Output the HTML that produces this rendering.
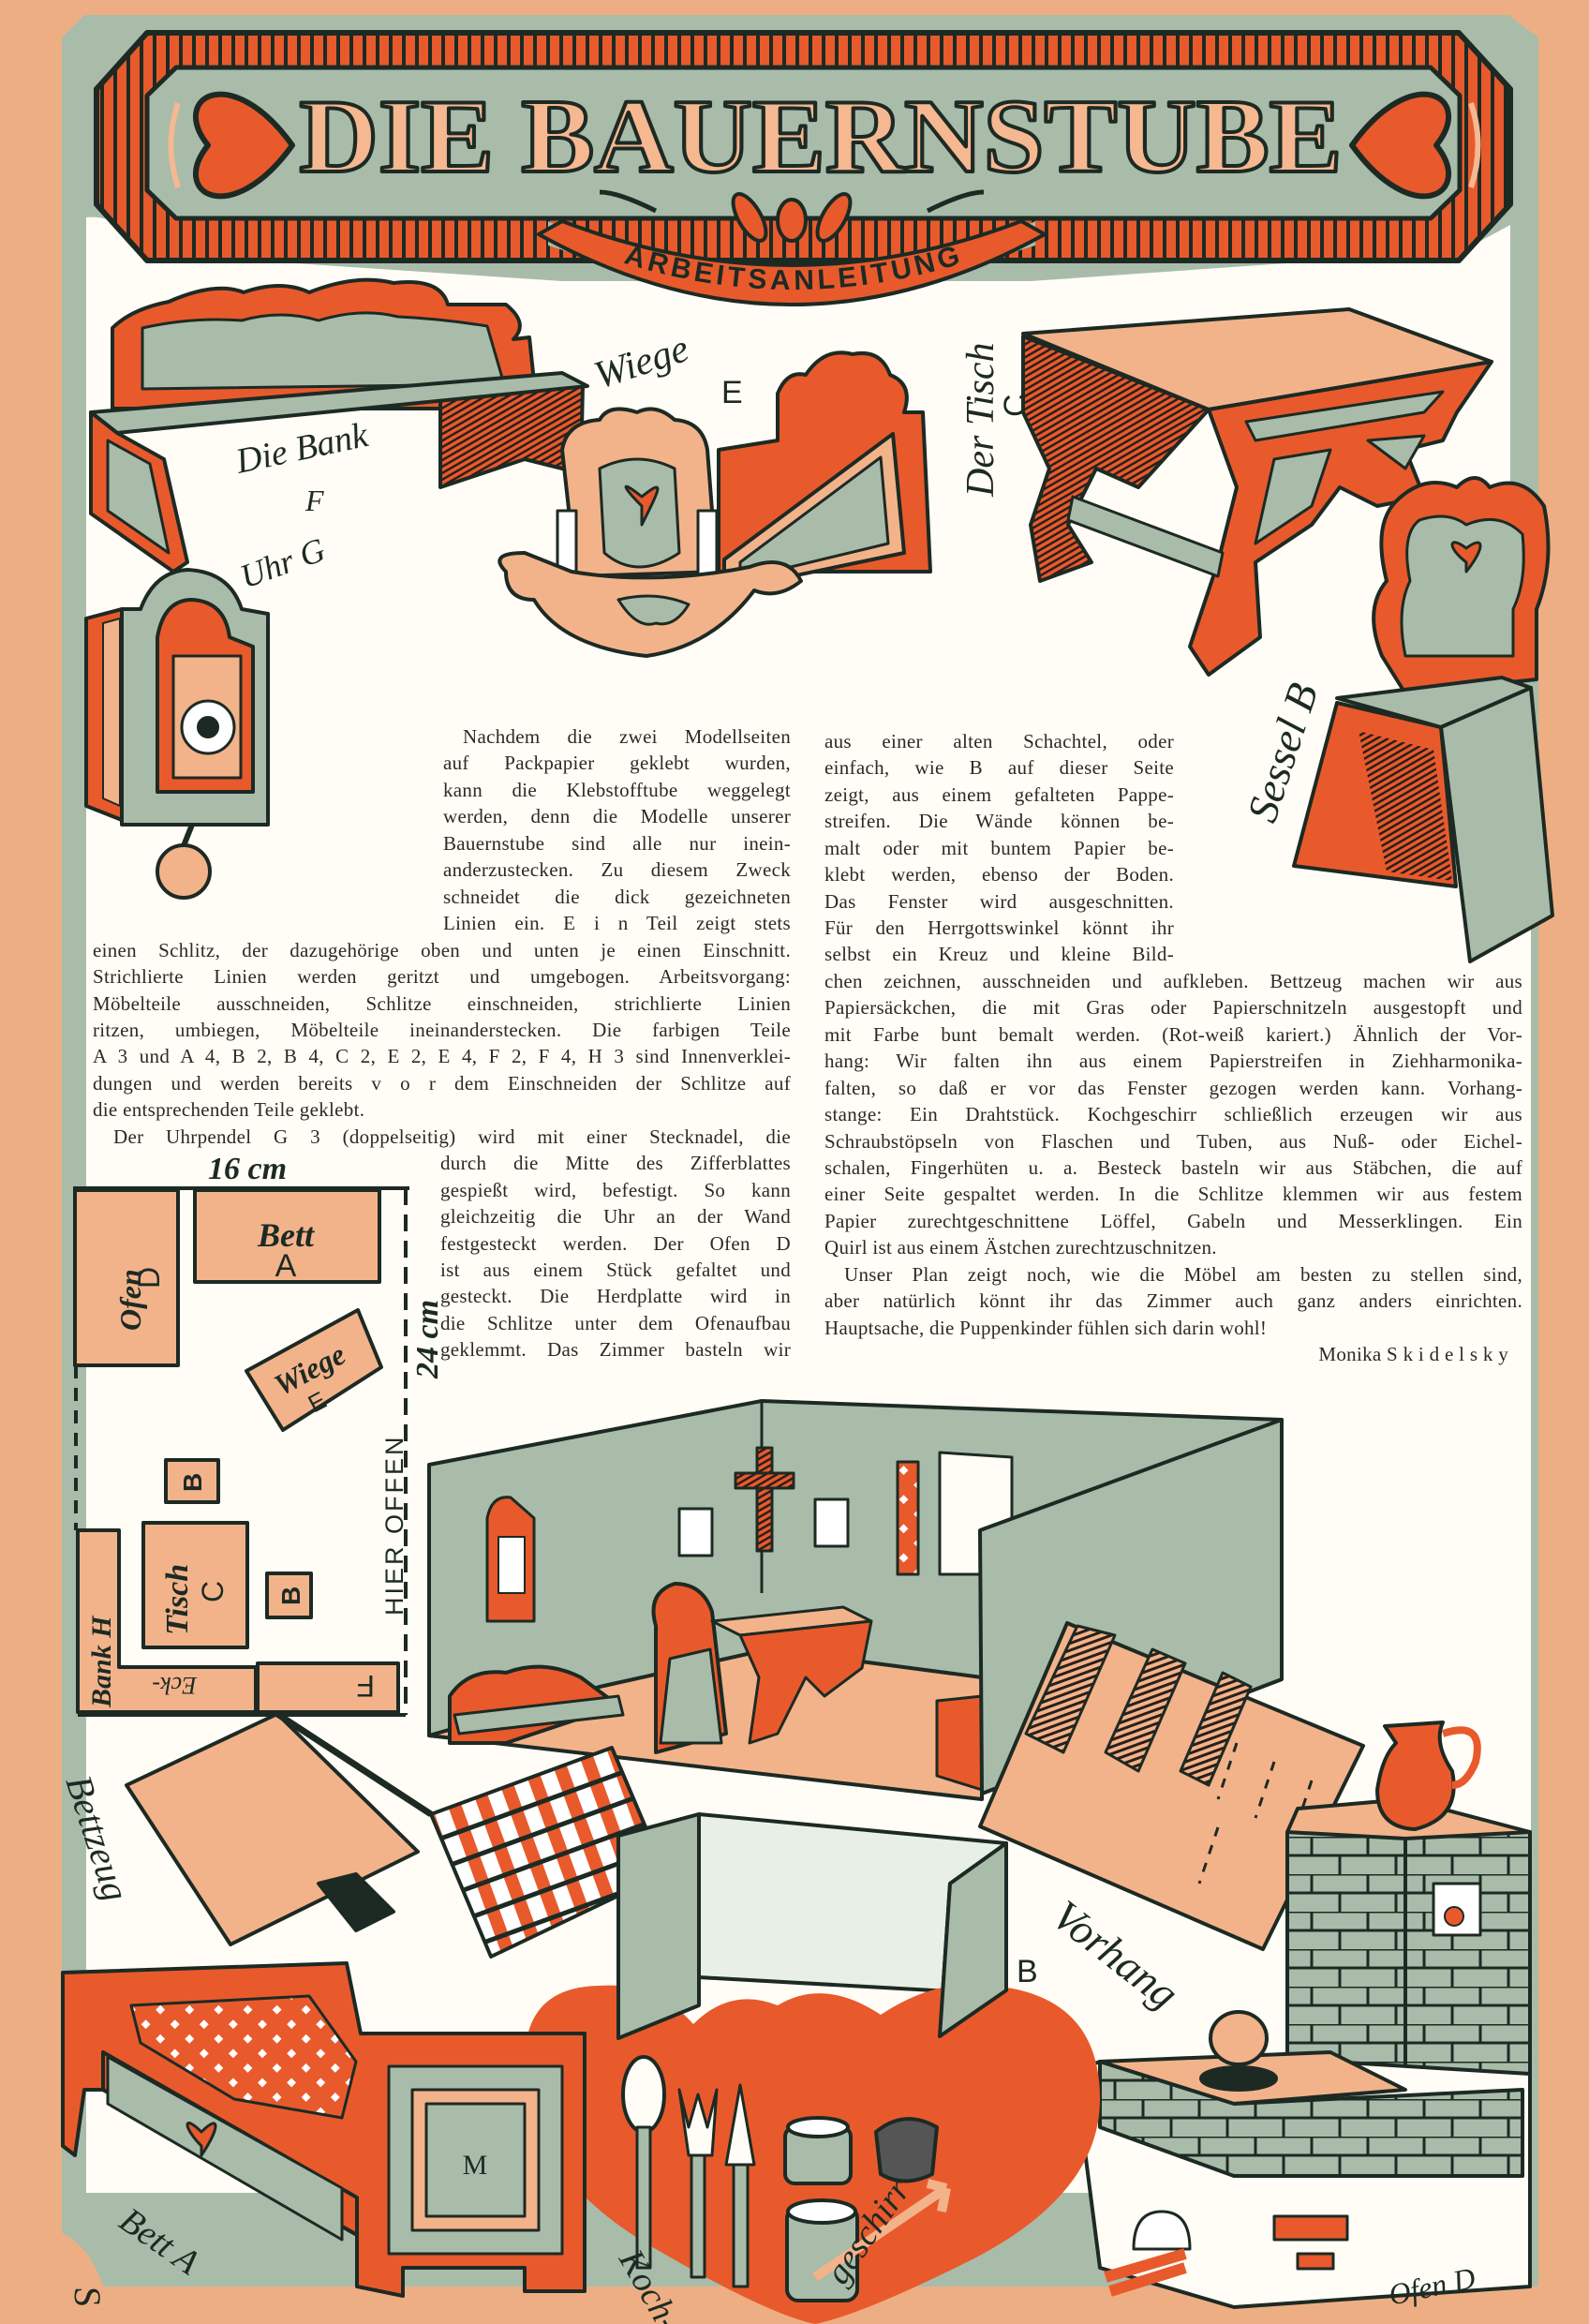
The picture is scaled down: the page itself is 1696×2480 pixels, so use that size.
<!DOCTYPE html>
<html><head><meta charset="utf-8"><style>
html,body{margin:0;padding:0}
body{width:1696px;height:2480px;position:relative;overflow:hidden;background:#eeae84}
svg{position:absolute;left:0;top:0}
.l{position:absolute;height:28px;font-family:"Liberation Serif",serif;font-size:21px;line-height:28px;color:#2a2a26;text-align:justify;text-align-last:justify;white-space:nowrap;letter-spacing:0.3px}
.nl{text-align-last:left}
.hw{font-family:"Liberation Serif",serif;font-style:italic;fill:#1d2a24}
</style></head><body>
<svg width="1696" height="2480" viewBox="0 0 1696 2480">
<defs>
<pattern id="stripes" width="14" height="14" patternUnits="userSpaceOnUse"><rect width="14" height="14" fill="#e85a2c"/><rect x="9" width="4" height="14" fill="#1d2a24"/></pattern>
<pattern id="hatch" width="6" height="6" patternUnits="userSpaceOnUse" patternTransform="rotate(60)"><rect width="6" height="6" fill="#e85a2c"/><rect width="2.5" height="6" fill="#2a1f1a"/></pattern>
<pattern id="hatch2" width="7" height="7" patternUnits="userSpaceOnUse" patternTransform="rotate(70)"><rect width="7" height="7" fill="#f3b38a"/><rect width="3" height="7" fill="#2a1f1a"/></pattern>
<pattern id="check" width="30" height="30" patternUnits="userSpaceOnUse" patternTransform="rotate(-20)"><rect width="30" height="30" fill="#fff"/><rect width="14" height="30" fill="#e85a2c"/><rect y="22" width="30" height="5" fill="#1d2a24"/></pattern>
<pattern id="diam" width="22" height="22" patternUnits="userSpaceOnUse" patternTransform="rotate(45)"><rect width="22" height="22" fill="#e85a2c"/><rect x="6" y="6" width="7" height="7" fill="#fff"/></pattern>
<pattern id="tile" width="60" height="40" patternUnits="userSpaceOnUse"><rect width="60" height="40" fill="#a9bcaa"/><path d="M0 0H60M0 20H60M20 0V20M50 20V40" stroke="#1d2a24" stroke-width="3"/></pattern>
</defs>
<g stroke="#1d2a24" stroke-width="4" stroke-linejoin="round">
<!-- frame -->
<path d="M66 40 L90 16 L1610 16 L1642 40 L1642 2440 L66 2440 Z" fill="#a9bcaa" stroke="none"/>
<path d="M92 232 Q130 228 150 270 L600 300 L1100 300 L1560 268 L1612 240 L1612 960 L1634 960 L1634 2380 L92 2380 Z" fill="#fffdf6" stroke="none"/>
<path d="M66 2340 L1180 2340 L1180 2440 L66 2440 Z" fill="#a9bcaa" stroke="none"/>
<path d="M0 2440 L1696 2440 L1696 2480 L0 2480 Z M60 2380 Q110 2400 117 2480 L60 2480 Z" fill="#eeae84" stroke="none"/>
<!-- header -->
<path d="M157 35 L1557 35 L1612 95 L1612 218 L1557 278 L157 278 L103 218 L103 95 Z" fill="url(#stripes)" stroke-width="6"/>
<path d="M188 72 L1527 72 L1558 102 L1558 203 L1527 233 L188 233 L157 203 L157 102 Z" fill="#a9bcaa" stroke-width="5"/>
<path d="M585 236 Q845 370 1105 236 L1105 262 Q845 345 585 262 Z" fill="#a9bcaa" stroke="none"/>
<path d="M580 262 Q845 360 1110 262 L1100 250 Q845 300 590 250 Z" fill="none" stroke="none"/>
<path d="M575 250 Q845 400 1115 250 L1090 236 Q845 330 600 236 Z" fill="#e85a2c"/>
<path id="rib" d="M605 258 Q845 360 1090 258" fill="none" stroke="none"/>
<text font-family="Liberation Sans,sans-serif" font-size="30" font-weight="bold" fill="#1d2a24" stroke="none" letter-spacing="4"><textPath href="#rib" startOffset="50%" text-anchor="middle">ARBEITSANLEITUNG</textPath></text>
<text x="876" y="183" text-anchor="middle" font-family="Liberation Serif,serif" font-weight="bold" font-size="112" textLength="1113" lengthAdjust="spacingAndGlyphs" fill="#f5b891" stroke-width="4">DIE BAUERNSTUBE</text>
<g transform="translate(255,155) rotate(-90) scale(1.5)"><path d="M0 38 C -60 -5 -35 -50 0 -22 C 35 -50 60 -5 0 38 Z" fill="#e85a2c"/></g>
<g transform="translate(1500,155) rotate(90) scale(1.5)"><path d="M0 38 C -60 -5 -35 -50 0 -22 C 35 -50 60 -5 0 38 Z" fill="#e85a2c"/></g>
<path d="M190 110 Q175 155 190 200 M1570 110 Q1585 155 1570 200" fill="none" stroke="#f5b891" stroke-width="6"/>
<path d="M700 225 Q660 205 640 205 M990 225 Q1030 205 1050 205" fill="none" stroke-width="5"/>
<ellipse cx="845" cy="235" rx="15" ry="22" fill="#e85a2c"/>
<ellipse cx="800" cy="232" rx="12" ry="28" transform="rotate(-30 800 232)" fill="#e85a2c"/>
<ellipse cx="890" cy="232" rx="12" ry="28" transform="rotate(30 890 232)" fill="#e85a2c"/>
<!-- Bench F -->
<path d="M120 436 L120 350 Q140 330 180 322 Q230 300 260 312 Q300 298 330 312 Q380 292 420 302 Q470 296 478 325 L540 325 Q565 345 548 362 L565 360 L573 436 Z" fill="#e85a2c"/>
<path d="M152 415 L152 350 Q205 338 258 342 Q300 330 340 342 Q385 328 425 338 Q470 340 520 348 L538 410 Z" fill="#a9bcaa" stroke-width="3"/>
<path d="M470 425 L622 410 L620 505 L560 490 L470 520 Z" fill="url(#hatch)"/>
<path d="M97 440 L600 398 L627 412 L125 462 Z" fill="#a9bcaa"/>
<path d="M97 440 L125 462 L175 490 L200 600 L185 610 L97 548 Z" fill="#e85a2c"/>
<path d="M115 470 L160 495 L180 590 L115 545 Z" fill="#a9bcaa" stroke-width="3"/>
<text class="hw" x="255" y="505" font-size="38" stroke="none" transform="rotate(-12 255 505)">Die Bank</text>
<text class="hw" x="326" y="545" font-size="32" stroke="none" font-style="normal" font-family="Liberation Sans">F</text>
<!-- Clock G -->
<path d="M92 660 L130 650 L130 875 L92 860 Z" fill="#e85a2c"/>
<path d="M110 665 L128 660 L128 860 L110 852 Z" fill="#f3b38a" stroke-width="2"/>
<path d="M130 650 L150 650 Q165 610 200 608 Q245 610 258 650 L286 655 L286 880 L130 880 Z" fill="#a9bcaa"/>
<path d="M168 680 Q175 640 205 640 Q240 642 245 680 L270 690 L270 845 L168 845 Z" fill="#e85a2c"/>
<rect x="185" y="700" width="72" height="130" fill="#f3b38a" stroke-width="3"/>
<circle cx="222" cy="776" r="28" fill="#fff" stroke-width="3"/>
<circle cx="222" cy="776" r="10" fill="#1d2a24"/>
<path d="M205 880 L195 905" stroke-width="6"/>
<circle cx="196" cy="930" r="28" fill="#f3b38a"/>
<text class="hw" x="262" y="628" font-size="36" stroke="none" transform="rotate(-20 262 628)">Uhr G</text>
<!-- Cradle E -->
<path d="M767 610 L767 480 L830 470 L830 420 Q840 395 860 400 Q880 370 910 378 Q940 372 950 400 Q975 410 965 440 L985 440 L993 610 Z" fill="#e85a2c"/>
<path d="M773 597 L953 463 L965 590 L773 630 Z" fill="#f3b38a"/>
<path d="M790 600 L940 488 L948 580 L790 618 Z" fill="#a9bcaa" stroke-width="3"/>
<path d="M600 480 Q605 450 640 448 Q650 430 680 440 Q700 430 720 448 Q750 450 755 480 L765 610 L615 615 Z" fill="#f3b38a"/>
<path d="M640 500 Q680 480 720 500 L725 590 Q680 620 645 590 Z" fill="#a9bcaa" stroke-width="3"/>
<path d="M685 540 C 665 520 660 510 685 530 C 710 510 705 520 685 560 Z" fill="#e85a2c" stroke-width="3"/>
<rect x="595" y="545" width="20" height="80" fill="#fff" stroke-width="3"/>
<rect x="745" y="545" width="20" height="80" fill="#fff" stroke-width="3"/>
<path d="M540 610 Q520 590 560 590 L610 610 Q700 625 800 605 Q840 590 855 620 Q830 640 805 630 Q760 690 690 700 Q600 690 570 640 Q540 640 540 610 Z" fill="#f3b38a"/>
<path d="M660 640 Q700 630 735 645 Q720 670 700 665 Q680 672 660 640 Z" fill="#a9bcaa" stroke-width="3"/>
<text class="hw" x="640" y="415" font-size="42" stroke="none" transform="rotate(-18 640 415)">Wiege</text>
<text x="770" y="430" font-family="Liberation Sans" font-size="34" fill="#1d2a24" stroke="none">E</text>
<text class="hw" x="1060" y="530" font-size="42" stroke="none" transform="rotate(-90 1060 530)">Der Tisch</text>
<text x="1095" y="445" font-family="Liberation Sans" font-size="34" fill="#1d2a24" stroke="none" transform="rotate(-90 1095 445)">C</text>
<!-- Table C -->
<path d="M1092 359 L1290 437 L1215 520 L1170 500 L1140 560 L1165 600 L1110 620 L1100 560 L1120 500 L1092 440 Z" fill="url(#hatch)"/>
<path d="M1092 356 L1440 330 L1592 386 L1290 437 Z" fill="#f3b38a"/>
<path d="M1290 437 L1592 386 L1555 440 L1540 470 L1500 480 L1520 530 L1470 540 L1430 520 L1400 560 L1340 600 L1345 680 L1290 720 L1270 690 L1300 600 L1320 520 Z" fill="#e85a2c"/>
<path d="M1330 450 L1540 418 L1520 440 L1340 470 Z" fill="#a9bcaa" stroke-width="3"/>
<path d="M1360 490 L1420 480 L1400 540 L1340 580 Z M1460 470 L1520 465 L1500 500 Z" fill="#a9bcaa" stroke-width="3"/>
<path d="M1145 530 L1305 590 L1300 615 L1140 555 Z" fill="#a9bcaa" stroke-width="3"/>
<!-- Chair B -->
<path d="M1475 700 Q1455 650 1480 620 Q1465 560 1490 535 Q1520 505 1555 520 Q1575 500 1590 520 Q1625 505 1648 540 Q1660 600 1640 650 L1640 725 L1500 740 Z" fill="#e85a2c"/>
<path d="M1500 700 Q1490 650 1505 620 Q1495 570 1515 555 Q1545 545 1565 560 Q1600 545 1625 570 Q1630 620 1615 650 L1615 700 Z" fill="#a9bcaa" stroke-width="3"/>
<path d="M1565 600 C 1545 585 1545 570 1565 585 C 1585 570 1585 585 1565 610 Z" fill="#e85a2c" stroke-width="3"/>
<path d="M1427 750 L1538 776 L1554 946 L1381 924 Z" fill="#e85a2c"/>
<path d="M1450 780 L1530 800 L1550 940 L1480 930 Z" fill="url(#hatch)" stroke="none"/>
<path d="M1427 745 L1603 723 L1634 734 L1538 776 Z" fill="#a9bcaa"/>
<path d="M1538 776 L1634 734 L1657 977 L1569 1026 Z" fill="#a9bcaa"/>
<text class="hw" x="1360" y="880" font-size="46" stroke="none" transform="rotate(-72 1360 880)">Sessel B</text>
<!-- Floor plan -->
<path d="M78 1268 L437 1268" fill="none"/>
<path d="M433 1268 L433 1830" fill="none" stroke-dasharray="18 10"/>
<path d="M81 1268 L81 1457" fill="none"/>
<path d="M81 1457 L81 1633" fill="none" stroke-dasharray="14 10"/>
<path d="M83 1830 L433 1830" fill="none"/>
<rect x="80" y="1270" width="110" height="187" fill="#f3b38a"/>
<rect x="208" y="1270" width="197" height="98" fill="#f3b38a"/>
<path d="M263 1463 L382 1398 L407 1459 L302 1526 Z" fill="#f3b38a"/>
<rect x="177" y="1558" width="56" height="45" fill="#f3b38a"/>
<rect x="153" y="1625" width="111" height="133" fill="#f3b38a"/>
<rect x="285" y="1679" width="47" height="47" fill="#f3b38a"/>
<path d="M83 1633 L127 1633 L127 1779 L273 1779 L273 1827 L83 1827 Z" fill="#f3b38a"/>
<rect x="275" y="1775" width="150" height="52" fill="#f3b38a"/>
<g stroke="none" fill="#1d2a24">
<text class="hw" x="222" y="1258" font-size="34" font-weight="bold">16 cm</text>
<text class="hw" x="305" y="1330" font-size="36" font-weight="bold" text-anchor="middle">Bett</text>
<text x="305" y="1362" font-family="Liberation Sans" font-size="34" text-anchor="middle">A</text>
<text class="hw" x="150" y="1420" font-size="32" font-weight="bold" transform="rotate(-90 150 1420)">Ofen</text>
<text x="170" y="1375" font-family="Liberation Sans" font-size="32" transform="rotate(-90 170 1375)">D</text>
<text class="hw" x="300" y="1490" font-size="32" font-weight="bold" transform="rotate(-28 300 1490)">Wiege</text>
<text x="335" y="1508" font-family="Liberation Sans" font-size="26" transform="rotate(-28 335 1508)">E</text>
<text x="215" y="1592" font-family="Liberation Sans" font-weight="bold" font-size="28" transform="rotate(-90 215 1592)">B</text>
<text x="320" y="1713" font-family="Liberation Sans" font-weight="bold" font-size="28" transform="rotate(-90 320 1713)">B</text>
<text class="hw" x="200" y="1745" font-size="34" font-weight="bold" transform="rotate(-90 200 1745)">Tisch</text>
<text x="238" y="1710" font-family="Liberation Sans" font-size="32" transform="rotate(-90 238 1710)">C</text>
<text class="hw" x="118" y="1822" font-size="30" font-weight="bold" transform="rotate(-90 118 1822)">Bank H</text>
<text class="hw" x="210" y="1790" font-size="26" transform="rotate(180 210 1790)">Eck-</text>
<text x="400" y="1788" font-family="Liberation Sans" font-size="32" transform="rotate(180 400 1788)">F</text>
<text x="430" y="1724" font-family="Liberation Sans" font-size="27" letter-spacing="3" transform="rotate(-90 430 1724)">HIER OFFEN</text>
<text class="hw" x="467" y="1471" font-size="34" font-weight="bold" transform="rotate(-90 467 1471)">24 cm</text>
</g>
<!-- Room -->
<path d="M458 1563 L813 1495 L1368 1515 L1368 1792 L1048 1914 L458 1852 Z" fill="#a9bcaa"/>
<path d="M1003 1550 L1080 1555 L1080 1680 L1003 1680 Z" fill="#fffdf6" stroke-width="3"/>
<path d="M458 1852 L640 1800 L820 1760 L1048 1790 L1048 1920 Z" fill="#f3b38a"/>
<path d="M813 1495 L813 1700" fill="none" stroke-width="3"/>
<path d="M520 1620 Q525 1595 545 1598 L570 1620 L570 1730 L520 1730 Z" fill="#e85a2c" stroke-width="3"/>
<rect x="532" y="1640" width="28" height="60" fill="#fff" stroke-width="2"/>
<rect x="808" y="1545" width="16" height="110" fill="url(#hatch)" stroke-width="3"/>
<rect x="785" y="1572" width="62" height="16" fill="url(#hatch)" stroke-width="3"/>
<rect x="725" y="1610" width="35" height="50" fill="#fff" stroke-width="3"/>
<rect x="870" y="1600" width="35" height="50" fill="#fff" stroke-width="3"/>
<rect x="958" y="1560" width="22" height="120" fill="url(#diam)" stroke-width="3"/>
<path d="M480 1810 Q500 1780 540 1785 Q580 1770 620 1790 L660 1820 L540 1860 L480 1860 Z" fill="#e85a2c"/>
<path d="M485 1830 L660 1810 L665 1830 L490 1850 Z" fill="#a9bcaa" stroke-width="3"/>
<path d="M700 1735 Q690 1700 720 1690 Q750 1690 760 1720 L775 1850 L700 1870 Z" fill="#e85a2c"/>
<path d="M715 1770 L758 1760 L770 1860 L705 1860 Z" fill="#a9bcaa" stroke-width="3"/>
<path d="M760 1730 L900 1715 L930 1730 L790 1745 Z" fill="#f3b38a" stroke-width="3"/>
<path d="M790 1745 L930 1730 L920 1780 L880 1810 L860 1790 L830 1850 L800 1860 L810 1790 Z" fill="#e85a2c" stroke-width="3"/>
<path d="M1000 1815 L1048 1810 L1048 1910 L1000 1895 Z" fill="#e85a2c" stroke-width="3"/>
<path d="M1046 1633 L1368 1515 L1368 1792 L1048 1914 Z" fill="#a9bcaa"/>
<!-- Curtain -->
<path d="M1046 1949 L1139 1732 L1455 1863 L1348 2080 Z" fill="#f3b38a"/>
<path d="M1095 1850 L1150 1735 L1190 1745 L1135 1870 Z M1180 1870 L1230 1760 L1265 1775 L1215 1890 Z M1260 1890 L1305 1785 L1335 1800 L1290 1905 Z" fill="url(#hatch2)" stroke-width="3"/>
<path d="M1320 1860 L1300 1920 M1360 1880 L1340 1940 M1400 1900 L1380 1960 M1300 1950 L1280 2010" fill="none" stroke-width="3" stroke-dasharray="10 10"/>
<!-- Jug & stove -->
<path d="M1374 1955 L1500 1940 L1633 1955 L1633 2213 L1374 2213 Z" fill="url(#tile)"/>
<path d="M1385 1930 L1500 1920 L1633 1955 L1500 1962 L1374 1955 Z" fill="#f3b38a"/>
<path d="M1500 1962 L1500 2213" fill="none"/>
<rect x="1530" y="2010" width="50" height="55" fill="#fff" stroke-width="3"/>
<circle cx="1552" cy="2045" r="10" fill="#e85a2c" stroke-width="2"/>
<path d="M1478 1842 L1540 1838 Q1530 1860 1550 1890 Q1560 1940 1510 1952 Q1470 1950 1470 1910 Q1475 1875 1490 1860 Z" fill="#e85a2c"/>
<path d="M1540 1850 Q1585 1835 1575 1880 Q1565 1905 1550 1905" fill="none" stroke="#e85a2c" stroke-width="8"/>
<path d="M1147 2210 L1174 2200 L1420 2200 L1633 2213 L1633 2440 L1317 2462 L1174 2420 Z" fill="#fffdf6"/>
<path d="M1174 2200 L1420 2190 L1500 2230 L1317 2245 Z" fill="#f3b38a"/>
<path d="M1174 2200 L1317 2245 L1625 2230 L1625 2322 L1317 2322 L1174 2270 Z" fill="url(#tile)"/>
<rect x="1360" y="2365" width="78" height="25" fill="#e85a2c" stroke-width="3"/>
<rect x="1385" y="2405" width="38" height="16" fill="#e85a2c" stroke-width="3"/>
<path d="M1210 2400 Q1210 2360 1240 2360 Q1270 2360 1270 2400 Z" fill="#fff" stroke-width="3"/>
<path d="M1180 2430 L1265 2405 M1185 2445 L1265 2420" stroke="#e85a2c" stroke-width="12"/>
<ellipse cx="1322" cy="2175" rx="30" ry="28" fill="#f3b38a"/>
<ellipse cx="1322" cy="2218" rx="40" ry="12" fill="#1d2a24"/>
<!-- Bettzeug -->
<path d="M135 1905 L296 1829 L446 1976 L246 2075 Z" fill="#f3b38a"/>
<path d="M296 1829 L460 1936" stroke-width="7"/>
<path d="M460 1936 L653 1865 L710 1999 L524 2088 Z" fill="url(#check)"/>
<path d="M340 2010 L380 2000 L420 2040 L380 2060 Z" fill="#1d2a24"/>
<!-- Panel B -->
<path d="M660 1959 L746 1936 L746 2110 L660 2150 Z" fill="#a9bcaa"/>
<path d="M746 1936 L1074 1967 L1014 2125 L746 2110 Z" fill="#e8efe6"/>
<path d="M1014 2010 L1074 1967 L1074 2124 L1003 2173 Z" fill="#a9bcaa"/>
<text x="1085" y="2115" font-family="Liberation Sans" font-size="34" fill="#1d2a24" stroke="none">B</text>
<!-- Heart -->
<path d="M560 2200 Q560 2120 640 2119 Q700 2115 740 2160 Q780 2120 830 2140 Q880 2110 940 2150 Q1000 2110 1060 2119 Q1174 2130 1174 2240 Q1174 2340 1040 2410 Q920 2470 870 2480 Q820 2470 700 2400 Q560 2320 560 2200 Z" fill="#e85a2c" stroke="none"/>
<path d="M660 2150 L746 2126 L746 2110 L660 2150 Z" fill="#a9bcaa"/>
<path d="M660 1959 L746 1936 L746 2140 L660 2175 Z" fill="#a9bcaa"/>
<path d="M1003 2173 L1074 2124 L1074 1967 L1014 2010 Z" fill="#a9bcaa"/>
<ellipse cx="687" cy="2235" rx="22" ry="40" fill="#fffdf6"/>
<rect x="680" y="2270" width="14" height="150" fill="#a9bcaa" stroke-width="3"/>
<path d="M725 2230 L735 2270 L745 2235 L755 2270 L765 2230 L760 2300 L735 2300 Z" fill="#fffdf6" stroke-width="3"/>
<rect x="738" y="2300" width="14" height="130" fill="#a9bcaa" stroke-width="3"/>
<path d="M790 2225 L805 2310 L775 2310 Z" fill="#fffdf6" stroke-width="3"/>
<rect x="783" y="2310" width="15" height="130" fill="#a9bcaa" stroke-width="3"/>
<rect x="838" y="2270" width="70" height="60" rx="10" fill="#a9bcaa"/>
<ellipse cx="873" cy="2270" rx="32" ry="10" fill="#fff"/>
<rect x="840" y="2355" width="75" height="100" rx="12" fill="#a9bcaa"/>
<ellipse cx="877" cy="2360" rx="36" ry="12" fill="#fff"/>
<path d="M935 2275 Q965 2250 1000 2270 L995 2320 Q965 2335 940 2320 Z" fill="#555" />
<path d="M870 2430 L1010 2335 M1010 2335 L990 2330 M1010 2335 L1005 2360" stroke="#f3b38a" stroke-width="10" fill="none"/>
<!-- Bed A -->
<path d="M67 2105 L370 2095 L385 2170 L624 2170 L624 2445 L560 2445 L560 2420 L430 2420 L430 2450 L381 2440 L381 2385 L110 2230 L90 2230 L80 2300 L67 2290 Z" fill="#e85a2c"/>
<path d="M140 2140 L330 2130 L380 2200 L365 2260 L250 2240 L150 2180 Z" fill="url(#diam)" stroke-width="3"/>
<path d="M110 2230 L381 2385 L381 2345 L110 2190 Z" fill="none"/>
<path d="M115 2245 L365 2390 L365 2335 L115 2195 Z" fill="#a9bcaa" stroke-width="3"/>
<path d="M215 2290 C 195 2270 195 2255 215 2275 C 235 2255 235 2270 215 2300 Z" fill="#e85a2c" stroke-width="3"/>
<rect x="415" y="2205" width="185" height="200" fill="#a9bcaa" stroke-width="3"/>
<rect x="440" y="2230" width="135" height="150" fill="#f3b38a" stroke-width="3"/>
<rect x="455" y="2245" width="105" height="120" fill="#a9bcaa" stroke-width="3"/>
<text x="507" y="2320" font-family="Liberation Serif" font-size="30" text-anchor="middle" fill="#1d2a24" stroke="none">M</text>
<!-- labels -->
<g stroke="none" fill="#1d2a24">
<text class="hw" x="1120" y="2050" font-size="46" transform="rotate(38 1120 2050)">Vorhang</text>
<text class="hw" x="70" y="1900" font-size="40" transform="rotate(72 70 1900)">Bettzeug</text>
<text class="hw" x="125" y="2375" font-size="38" transform="rotate(35 125 2375)">Bett A</text>
<text class="hw" x="660" y="2410" font-size="38" transform="rotate(60 660 2410)">Koch-</text>
<text class="hw" x="900" y="2440" font-size="38" transform="rotate(-55 900 2440)">geschirr</text>
<text class="hw" x="1485" y="2460" font-size="32" transform="rotate(-12 1485 2460)">Ofen D</text>
<text x="80" y="2440" font-family="Liberation Serif" font-size="40" transform="rotate(90 80 2440)">S</text>
</g>
</g>
</svg>
<div class="l" style="left:494px;top:772px;width:350px">Nachdem die zwei Modellseiten</div>
<div class="l" style="left:473px;top:800px;width:371px">auf Packpapier geklebt wurden,</div>
<div class="l" style="left:473px;top:829px;width:371px">kann die Klebstofftube weggelegt</div>
<div class="l" style="left:473px;top:857px;width:371px">werden, denn die Modelle unserer</div>
<div class="l" style="left:473px;top:886px;width:371px">Bauernstube sind alle nur inein-</div>
<div class="l" style="left:473px;top:914px;width:371px">anderzustecken. Zu diesem Zweck</div>
<div class="l" style="left:473px;top:943px;width:371px">schneidet die dick gezeichneten</div>
<div class="l" style="left:473px;top:971px;width:371px">Linien ein. E i n Teil zeigt stets</div>
<div class="l" style="left:99px;top:1000px;width:745px">einen Schlitz, der dazugehörige oben und unten je einen Einschnitt.</div>
<div class="l" style="left:99px;top:1028px;width:745px">Strichlierte Linien werden geritzt und umgebogen. Arbeitsvorgang:</div>
<div class="l" style="left:99px;top:1057px;width:745px">Möbelteile ausschneiden, Schlitze einschneiden, strichlierte Linien</div>
<div class="l" style="left:99px;top:1085px;width:745px">ritzen, umbiegen, Möbelteile ineinanderstecken. Die farbigen Teile</div>
<div class="l" style="left:99px;top:1113px;width:745px">A 3 und A 4, B 2, B 4, C 2, E 2, E 4, F 2, F 4, H 3 sind Innenverklei-</div>
<div class="l" style="left:99px;top:1142px;width:745px">dungen und werden bereits v o r dem Einschneiden der Schlitze auf</div>
<div class="l nl" style="left:99px;top:1170px;width:745px">die entsprechenden Teile geklebt.</div>
<div class="l" style="left:121px;top:1199px;width:723px">Der Uhrpendel G 3 (doppelseitig) wird mit einer Stecknadel, die</div>
<div class="l" style="left:470px;top:1227px;width:374px">durch die Mitte des Zifferblattes</div>
<div class="l" style="left:470px;top:1256px;width:374px">gespießt wird, befestigt. So kann</div>
<div class="l" style="left:470px;top:1284px;width:374px">gleichzeitig die Uhr an der Wand</div>
<div class="l" style="left:470px;top:1313px;width:374px">festgesteckt werden. Der Ofen D</div>
<div class="l" style="left:470px;top:1341px;width:374px">ist aus einem Stück gefaltet und</div>
<div class="l" style="left:470px;top:1369px;width:374px">gesteckt. Die Herdplatte wird in</div>
<div class="l" style="left:470px;top:1398px;width:374px">die Schlitze unter dem Ofenaufbau</div>
<div class="l" style="left:470px;top:1426px;width:374px">geklemmt. Das Zimmer basteln wir</div>

<div class="l" style="left:880px;top:777px;width:373px">aus einer alten Schachtel, oder</div>
<div class="l" style="left:880px;top:805px;width:373px">einfach, wie B auf dieser Seite</div>
<div class="l" style="left:880px;top:834px;width:373px">zeigt, aus einem gefalteten Pappe-</div>
<div class="l" style="left:880px;top:862px;width:373px">streifen. Die Wände können be-</div>
<div class="l" style="left:880px;top:891px;width:373px">malt oder mit buntem Papier be-</div>
<div class="l" style="left:880px;top:919px;width:373px">klebt werden, ebenso der Boden.</div>
<div class="l" style="left:880px;top:948px;width:373px">Das Fenster wird ausgeschnitten.</div>
<div class="l" style="left:880px;top:976px;width:373px">Für den Herrgottswinkel könnt ihr</div>
<div class="l" style="left:880px;top:1004px;width:373px">selbst ein Kreuz und kleine Bild-</div>
<div class="l" style="left:880px;top:1033px;width:745px">chen zeichnen, ausschneiden und aufkleben. Bettzeug machen wir aus</div>
<div class="l" style="left:880px;top:1061px;width:745px">Papiersäckchen, die mit Gras oder Papierschnitzeln ausgestopft und</div>
<div class="l" style="left:880px;top:1090px;width:745px">mit Farbe bunt bemalt werden. (Rot-weiß kariert.) Ähnlich der Vor-</div>
<div class="l" style="left:880px;top:1118px;width:745px">hang: Wir falten ihn aus einem Papierstreifen in Ziehharmonika-</div>
<div class="l" style="left:880px;top:1147px;width:745px">falten, so daß er vor das Fenster gezogen werden kann. Vorhang-</div>
<div class="l" style="left:880px;top:1175px;width:745px">stange: Ein Drahtstück. Kochgeschirr schließlich erzeugen wir aus</div>
<div class="l" style="left:880px;top:1204px;width:745px">Schraubstöpseln von Flaschen und Tuben, aus Nuß- oder Eichel-</div>
<div class="l" style="left:880px;top:1232px;width:745px">schalen, Fingerhüten u. a. Besteck basteln wir aus Stäbchen, die auf</div>
<div class="l" style="left:880px;top:1260px;width:745px">einer Seite gespaltet werden. In die Schlitze klemmen wir aus festem</div>
<div class="l" style="left:880px;top:1289px;width:745px">Papier zurechtgeschnittene Löffel, Gabeln und Messerklingen. Ein</div>
<div class="l nl" style="left:880px;top:1317px;width:745px">Quirl ist aus einem Ästchen zurechtzuschnitzen.</div>
<div class="l" style="left:901px;top:1346px;width:724px">Unser Plan zeigt noch, wie die Möbel am besten zu stellen sind,</div>
<div class="l" style="left:880px;top:1374px;width:745px">aber natürlich könnt ihr das Zimmer auch ganz anders einrichten.</div>
<div class="l nl" style="left:880px;top:1403px;width:745px">Hauptsache, die Puppenkinder fühlen sich darin wohl!</div>
<div class="l nl" style="left:1360px;top:1431px;width:250px;text-align:right;text-align-last:right">Monika S k i d e l s k y</div>
</body></html>
